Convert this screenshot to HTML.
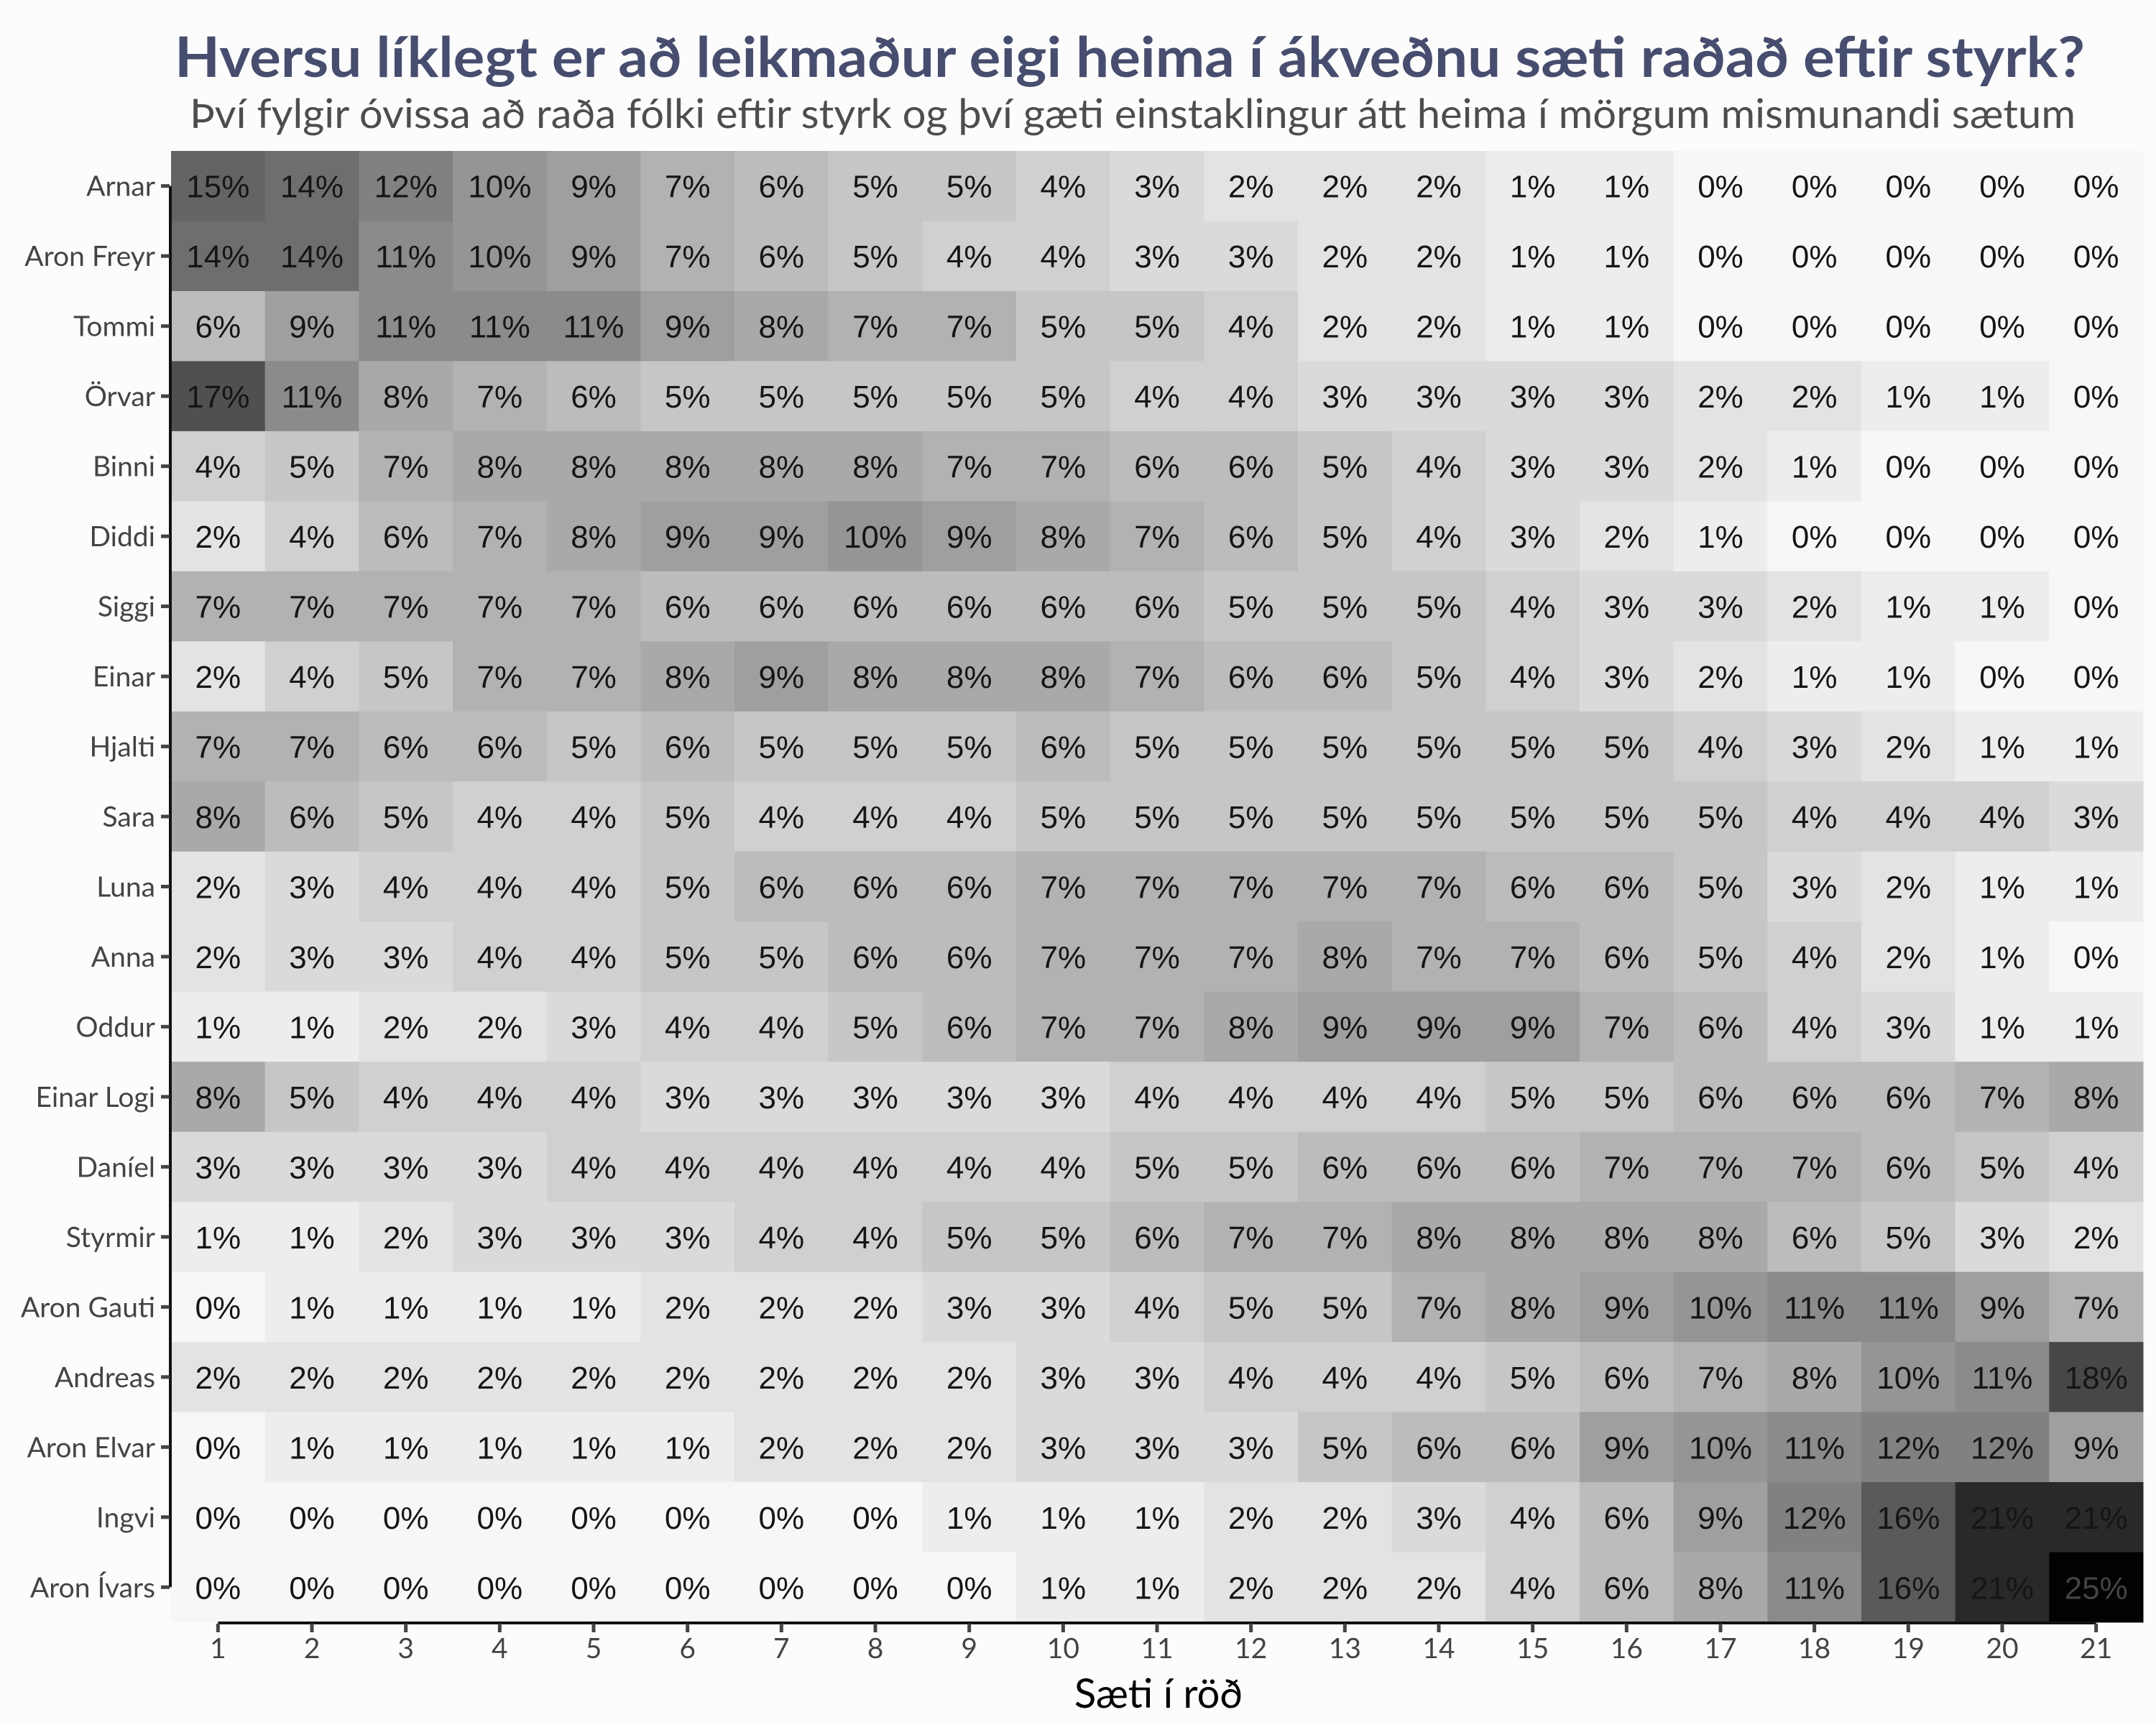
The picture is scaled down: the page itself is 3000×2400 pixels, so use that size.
<!DOCTYPE html>
<html><head><meta charset="utf-8"><style>
html,body{margin:0;padding:0;background:#fcfcfc;}
svg{display:block;}
</style></head><body>
<svg id="chart" width="3000" height="2400" viewBox="0 0 3000 2400" xmlns="http://www.w3.org/2000/svg">
<rect width="3000" height="2400" fill="#fcfcfc"/>
<text x="1572" y="107" text-anchor="middle" font-family="Lato, 'Liberation Sans', sans-serif" font-weight="bold" font-size="78" fill="#474d6e" textLength="2658" lengthAdjust="spacingAndGlyphs">Hversu líklegt er að leikmaður eigi heima í ákveðnu sæti raðað eftir styrk?</text>
<text x="1576" y="178" text-anchor="middle" font-family="Lato, 'Liberation Sans', sans-serif" font-size="56" fill="#4d4d4d" textLength="2624" lengthAdjust="spacingAndGlyphs">Því fylgir óvissa að raða fólki eftir styrk og því gæti einstaklingur átt heima í mörgum mismunandi sætum</text>
<g id="cells"></g>
<g id="axes"></g>
<text x="1612" y="2376" text-anchor="middle" font-family="Lato, 'Liberation Sans', sans-serif" font-size="56" fill="#000">Sæti í röð</text>
</svg>
<script>
const players = ["Arnar","Aron Freyr","Tommi","Örvar","Binni","Diddi","Siggi","Einar","Hjalti","Sara","Luna","Anna","Oddur","Einar Logi","Daníel","Styrmir","Aron Gauti","Andreas","Aron Elvar","Ingvi","Aron Ívars"];
const positions = ["1","2","3","4","5","6","7","8","9","10","11","12","13","14","15","16","17","18","19","20","21"];
const rowArnar = [15,14,12,10,9,7,6,5,5,4,3,2,2,2,1,1,0,0,0,0,0];
const rowAronFreyr = [14,14,11,10,9,7,6,5,4,4,3,3,2,2,1,1,0,0,0,0,0];
const rowTommi = [6,9,11,11,11,9,8,7,7,5,5,4,2,2,1,1,0,0,0,0,0];
const rowOrvar = [17,11,8,7,6,5,5,5,5,5,4,4,3,3,3,3,2,2,1,1,0];
const rowBinni = [4,5,7,8,8,8,8,8,7,7,6,6,5,4,3,3,2,1,0,0,0];
const rowDiddi = [2,4,6,7,8,9,9,10,9,8,7,6,5,4,3,2,1,0,0,0,0];
const rowSiggi = [7,7,7,7,7,6,6,6,6,6,6,5,5,5,4,3,3,2,1,1,0];
const rowEinar = [2,4,5,7,7,8,9,8,8,8,7,6,6,5,4,3,2,1,1,0,0];
const rowHjalti = [7,7,6,6,5,6,5,5,5,6,5,5,5,5,5,5,4,3,2,1,1];
const rowSara = [8,6,5,4,4,5,4,4,4,5,5,5,5,5,5,5,5,4,4,4,3];
const rowLuna = [2,3,4,4,4,5,6,6,6,7,7,7,7,7,6,6,5,3,2,1,1];
const rowAnna = [2,3,3,4,4,5,5,6,6,7,7,7,8,7,7,6,5,4,2,1,0];
const rowOddur = [1,1,2,2,3,4,4,5,6,7,7,8,9,9,9,7,6,4,3,1,1];
const rowEinarLogi = [8,5,4,4,4,3,3,3,3,3,4,4,4,4,5,5,6,6,6,7,8];
const rowDaniel = [3,3,3,3,4,4,4,4,4,4,5,5,6,6,6,7,7,7,6,5,4];
const rowStyrmir = [1,1,2,3,3,3,4,4,5,5,6,7,7,8,8,8,8,6,5,3,2];
const rowAronGauti = [0,1,1,1,1,2,2,2,3,3,4,5,5,7,8,9,10,11,11,9,7];
const rowAndreas = [2,2,2,2,2,2,2,2,2,3,3,4,4,4,5,6,7,8,10,11,18];
const rowAronElvar = [0,1,1,1,1,1,2,2,2,3,3,3,5,6,6,9,10,11,12,12,9];
const rowIngvi = [0,0,0,0,0,0,0,0,1,1,1,2,2,3,4,6,9,12,16,21,21];
const rowAronIvars = [0,0,0,0,0,0,0,0,0,1,1,2,2,2,4,6,8,11,16,21,25];
const values = [rowArnar,rowAronFreyr,rowTommi,rowOrvar,rowBinni,rowDiddi,rowSiggi,rowEinar,rowHjalti,rowSara,rowLuna,rowAnna,rowOddur,rowEinarLogi,rowDaniel,rowStyrmir,rowAronGauti,rowAndreas,rowAronElvar,rowIngvi,rowAronIvars];

const NS = "http://www.w3.org/2000/svg";
const L = 238, R = 2982, T = 210, B = 2257;
const cw = (R - L) / positions.length, rh = (B - T) / players.length;
function xScale(i){ return L + i * cw; }
function yScale(j){ return T + j * rh; }
function fillFor(v){ let g = Math.round(247 - 9.8 * v); g = Math.max(0, Math.min(250, g)); return "rgb(" + g + "," + g + "," + g + ")"; }

const cells = document.getElementById("cells");
values.forEach((row, j) => {
  row.forEach((v, i) => {
    const r = document.createElementNS(NS, "rect");
    r.setAttribute("x", xScale(i)); r.setAttribute("y", yScale(j));
    r.setAttribute("width", cw + 0.5); r.setAttribute("height", rh + 0.5);
    r.setAttribute("fill", fillFor(v));
    
    
    cells.appendChild(r);
    const t = document.createElementNS(NS, "text");
    t.setAttribute("x", xScale(i) + cw / 2); t.setAttribute("y", yScale(j) + rh / 2 + 16);
    t.setAttribute("text-anchor", "middle");
    t.setAttribute("font-family", "'Liberation Sans', Arial, sans-serif");
    t.setAttribute("font-size", "44");
    t.setAttribute("fill", v >= 24 ? "#444" : "#151515");
    t.textContent = v + "%";
    
    
    cells.appendChild(t);
  });
});

const axes = document.getElementById("axes");
function line(x1,y1,x2,y2,stroke,w,name){
  const l = document.createElementNS(NS, "line");
  l.setAttribute("x1",x1);l.setAttribute("y1",y1);l.setAttribute("x2",x2);l.setAttribute("y2",y2);
  l.setAttribute("stroke",stroke);l.setAttribute("stroke-width",w);
  
  
  axes.appendChild(l);
}
line(237, yScale(0) + rh/2, 237, yScale(players.length-1) + rh/2, "#111", 4, "y-axis-line");
line(xScale(0) + cw/2, 2258, xScale(positions.length-1) + cw/2, 2258, "#111", 4, "x-axis-line");
players.forEach((p, j) => {
  const cy = yScale(j) + rh / 2;
  line(224, cy, 236, cy, "#444", 5, "y-tick");
  const t = document.createElementNS(NS, "text");
  t.setAttribute("x", 216); t.setAttribute("y", cy + 14);
  t.setAttribute("text-anchor", "end");
  t.setAttribute("font-family", "Lato, 'Liberation Sans', sans-serif");
  t.setAttribute("font-size", "39"); t.setAttribute("fill", "#444");
  t.textContent = p;
  
  
  axes.appendChild(t);
});
positions.forEach((p, i) => {
  const cx = xScale(i) + cw / 2;
  line(cx, 2259, cx, 2271, "#444", 5, "x-tick");
  const t = document.createElementNS(NS, "text");
  t.setAttribute("x", cx); t.setAttribute("y", 2307);
  t.setAttribute("text-anchor", "middle");
  t.setAttribute("font-family", "Lato, 'Liberation Sans', sans-serif");
  t.setAttribute("font-size", "39"); t.setAttribute("fill", "#444");
  t.textContent = p;
  
  
  axes.appendChild(t);
});
</script>
</body></html>
